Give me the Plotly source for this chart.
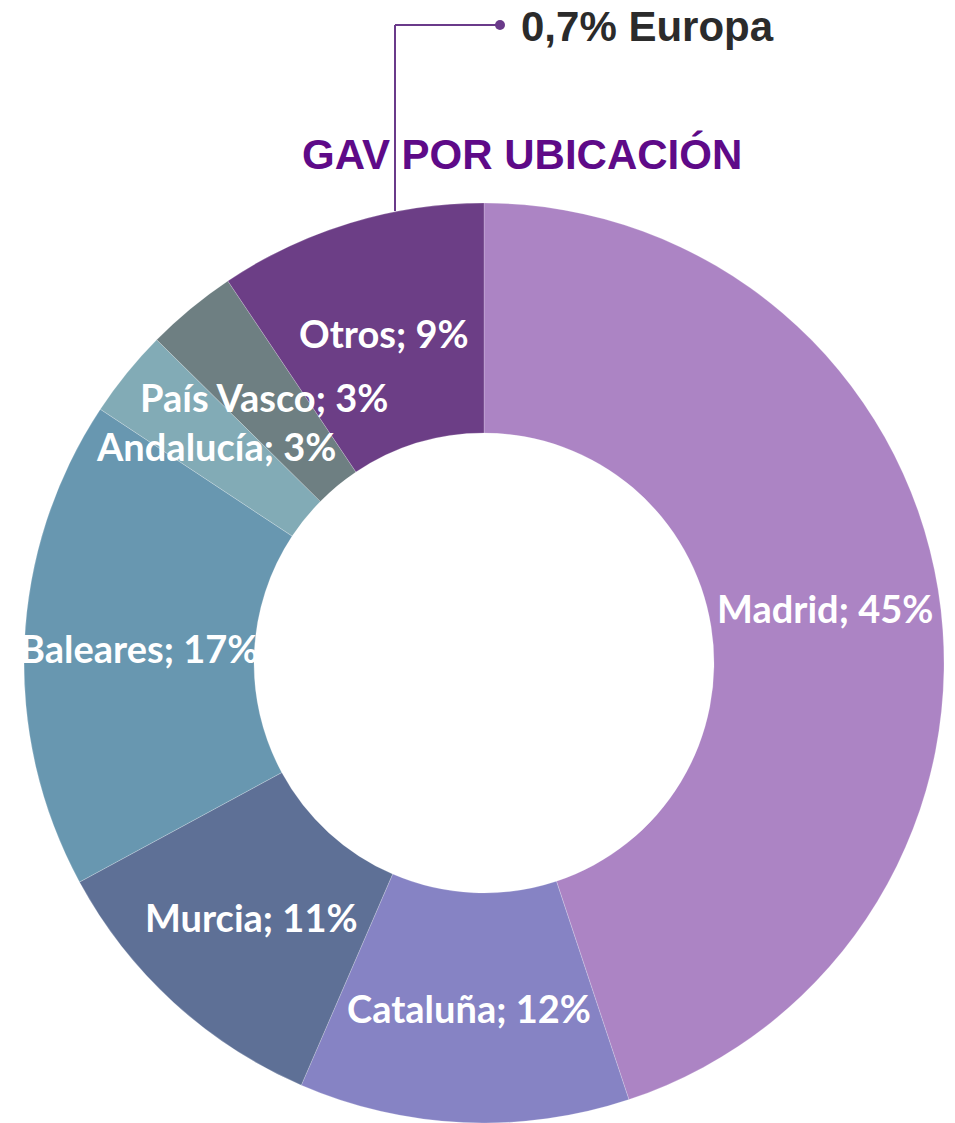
import math
import plotly.graph_objects as go

labels = ["Madrid", "Cataluña", "Murcia", "Baleares", "Andalucía", "País Vasco", "Otros"]
values = [44.9, 11.6, 10.6, 17.2, 3.1, 3.2, 9.4]
colors = ["#AC84C4", "#8683C4", "#5E7096", "#6897B0", "#82ABB6", "#6E7F82", "#6C3E86"]
title_text = "GAV POR UBICACIÓN"
europa_text = "0,7% Europa"

# page has an 8px body margin; figure sized to fit the window
OFF = 8
W, H = 955 - OFF, 1123 - OFF

def px(x):
    return (x - OFF) / W

def py(y):
    return 1 - (y - OFF) / H

HOLE = 0.5
CX, CY, R = 484, 663, 460  # screen pixels

fig = go.Figure(go.Pie(
    labels=labels,
    values=values,
    hole=HOLE,
    sort=False,
    direction="clockwise",
    rotation=0,
    marker=dict(colors=colors, line=dict(color="rgba(255,255,255,0.35)", width=0.6)),
    textinfo="none",
    hoverinfo="label+percent",
    showlegend=False,
    domain=dict(x=[px(CX - R), px(CX + R)], y=[py(CY + R), py(CY - R)]),
))

# slice labels, placed at the middle of the ring at each slice's mid-angle
total = sum(values)
cum = 0.0
rm = R * (1 + HOLE) / 2
for lab, v in zip(labels, values):
    mid = (cum + v / 2) / total * 2 * math.pi
    cum += v
    sx = CX + rm * math.sin(mid)
    sy = CY - rm * math.cos(mid)
    pct = round(v / total * 100)
    fig.add_annotation(
        x=px(sx), y=py(sy), xref="paper", yref="paper",
        text=f"<b>{lab}; {pct}%</b>", showarrow=False,
        font=dict(family="Lato", size=38, color="white"),
        xanchor="center", yanchor="middle",
    )

fig.update_layout(
    width=W, height=H,
    margin=dict(l=0, r=0, t=0, b=0),
    paper_bgcolor="white",
    plot_bgcolor="white",
)

# title
fig.add_annotation(
    x=px(522), y=py(154), xref="paper", yref="paper",
    text=f"<b>{title_text}</b>", showarrow=False,
    font=dict(family="Liberation Sans", size=42, color="#5E0A88"),
    xanchor="center", yanchor="middle",
)

# Europa leader line
line_col = "#6A3A8A"
fig.add_shape(type="line", xref="paper", yref="paper",
              x0=px(395), y0=py(211), x1=px(395), y1=py(25),
              line=dict(color=line_col, width=2))
fig.add_shape(type="line", xref="paper", yref="paper",
              x0=px(395), y0=py(25), x1=px(500), y1=py(25),
              line=dict(color=line_col, width=2))
fig.add_shape(type="circle", xref="paper", yref="paper",
              x0=px(495), y0=py(20), x1=px(505), y1=py(30),
              fillcolor=line_col, line=dict(color=line_col, width=0))
fig.add_annotation(
    x=px(519), y=py(27), xref="paper", yref="paper",
    text=f"<b>{europa_text}</b>", showarrow=False,
    font=dict(family="Liberation Sans", size=42, color="#2B2B2B"),
    xanchor="left", yanchor="middle",
)

fig.write_html("out.html")
